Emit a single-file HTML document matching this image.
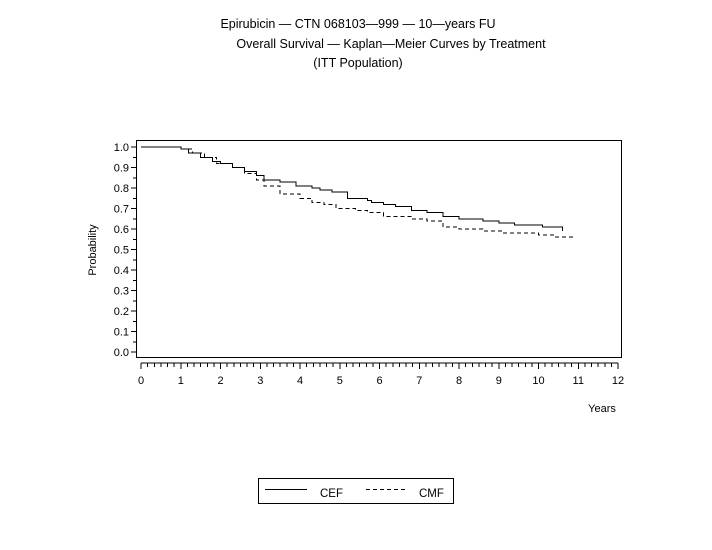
<!DOCTYPE html>
<html><head><meta charset="utf-8"><style>
body{margin:0;background:#fff}
svg{display:block;font-family:"Liberation Sans",Arial,sans-serif}
</style></head><body>
<svg width="712" height="550" viewBox="0 0 712 550">
<text x="358" y="28" font-size="12.5" text-anchor="middle">Epirubicin — CTN 068103—999 — 10—years FU</text>
<text x="391" y="48" font-size="12.5" text-anchor="middle">Overall Survival — Kaplan—Meier Curves by Treatment</text>
<text x="358" y="67" font-size="12.5" text-anchor="middle">(ITT Population)</text>
<rect x="136.5" y="140.5" width="485" height="217" fill="none" stroke="#000" stroke-width="1"/>
<g id="axes" shape-rendering="crispEdges"></g>
<g id="series" shape-rendering="crispEdges"></g>
<text transform="translate(96,250) rotate(-90)" font-size="11" text-anchor="middle">Probability</text>
<text x="602" y="412" font-size="11" text-anchor="middle">Years</text>
<g>
<rect x="258.5" y="478.5" width="195" height="25" fill="none" stroke="#000"/>
<line x1="265" y1="489.5" x2="307" y2="489.5" stroke="#000"/>
<text x="320" y="497" font-size="11.5">CEF</text>
<line x1="366" y1="489.5" x2="406" y2="489.5" stroke="#000" stroke-dasharray="4,3"/>
<text x="419" y="497" font-size="11.5">CMF</text>
</g>
</svg>
<script>
const xTicks=[0,1,2,3,4,5,6,7,8,9,10,11,12];
const yTicks=[0.0,0.1,0.2,0.3,0.4,0.5,0.6,0.7,0.8,0.9,1.0];
const cefTimes=[0,0.8,1.0,1.2,1.5,1.8,2.0,2.3,2.6,2.9,3.1,3.5,3.9,4.3,4.5,4.8,5.2,5.7,5.8,6.1,6.4,6.8,7.2,7.6,8.0,8.6,9.0,9.4,10.1,10.6];
const cefSurv=[1,1,0.99,0.97,0.95,0.93,0.92,0.90,0.88,0.86,0.84,0.83,0.81,0.80,0.79,0.78,0.75,0.74,0.73,0.72,0.71,0.69,0.68,0.66,0.65,0.64,0.63,0.62,0.61,0.59];
const cefEnd=10.6;
const cmfTimes=[0,0.8,1.0,1.3,1.6,1.9,2.3,2.6,2.9,3.1,3.5,4.0,4.3,4.6,4.9,5.4,5.7,6.1,6.8,7.2,7.6,8.0,8.6,9.1,10.0,10.4];
const cmfSurv=[1,1,0.99,0.97,0.95,0.92,0.90,0.87,0.84,0.81,0.77,0.75,0.73,0.72,0.70,0.69,0.68,0.66,0.65,0.64,0.61,0.60,0.59,0.58,0.57,0.56];
const cmfEnd=10.9;
const NS='http://www.w3.org/2000/svg';
const X=t=>141+t*(618-141)/12;
const Y=v=>352-v*(352-147);
const ax=document.getElementById('axes');
function mk(tag,attrs,parent){const e=document.createElementNS(NS,tag);for(const k in attrs)e.setAttribute(k,attrs[k]);parent.appendChild(e);return e;}
yTicks.forEach((v,i)=>{
 const l=mk('line',{x1:131,x2:136,y1:Y(v),y2:Y(v),stroke:'#000'},ax);
 
 
 if(i<yTicks.length-1){const m=mk('line',{x1:133,x2:136,y1:Y(v+0.05),y2:Y(v+0.05),stroke:'#000'},ax);
 
 }
 const t=mk('text',{x:129,y:Y(v)+4,'font-size':11,'text-anchor':'end'},ax);t.textContent=v.toFixed(1);
 
 
});
const bl=mk('line',{x1:141,x2:618,y1:363,y2:363,stroke:'#000'},ax);


xTicks.forEach((v,i)=>{
 const l=mk('line',{x1:X(v),x2:X(v),y1:363,y2:369,stroke:'#000'},ax);
 
 
 if(i<xTicks.length-1)for(let k=1;k<6;k++){const m=mk('line',{x1:X(v+k/6),x2:X(v+k/6),y1:363,y2:367,stroke:'#000'},ax);
 
 }
 const t=mk('text',{x:X(v),y:384,'font-size':11,'text-anchor':'middle'},ax);t.textContent=v;
 
 
});
function step(times,surv,end){let d='M'+X(times[0])+','+Y(surv[0]);for(let i=1;i<times.length;i++){d+=' H'+X(times[i])+' V'+Y(surv[i]);}d+=' H'+X(end);return d;}
const s=document.getElementById('series');
const p1=mk('path',{d:step(cefTimes,cefSurv,cefEnd),fill:'none',stroke:'#000','stroke-width':1},s);


const p2=mk('path',{d:step(cmfTimes,cmfSurv,cmfEnd),fill:'none',stroke:'#000','stroke-width':1,'stroke-dasharray':'4,3'},s);


</script>
</body></html>
